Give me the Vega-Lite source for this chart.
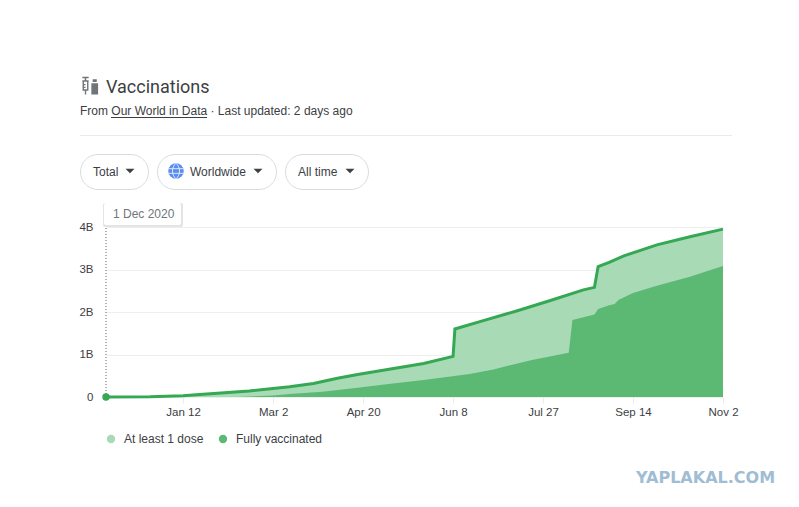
{
  "$schema": "https://vega.github.io/schema/vega-lite/v6.json",
  "width": 799,
  "height": 507,
  "autosize": "none",
  "padding": 0,
  "background": "white",
  "view": {"stroke": null},
  "datasets": {
    "vaccinations": [
      {"date": "2020-12-01", "series": "At least 1 dose", "doses": 0},
      {"date": "2020-12-25", "series": "At least 1 dose", "doses": 0.005},
      {"date": "2021-01-12", "series": "At least 1 dose", "doses": 0.03},
      {"date": "2021-01-21", "series": "At least 1 dose", "doses": 0.06},
      {"date": "2021-02-17", "series": "At least 1 dose", "doses": 0.14},
      {"date": "2021-03-11", "series": "At least 1 dose", "doses": 0.24},
      {"date": "2021-03-24", "series": "At least 1 dose", "doses": 0.32},
      {"date": "2021-04-06", "series": "At least 1 dose", "doses": 0.44},
      {"date": "2021-04-17", "series": "At least 1 dose", "doses": 0.53},
      {"date": "2021-05-05", "series": "At least 1 dose", "doses": 0.66},
      {"date": "2021-05-23", "series": "At least 1 dose", "doses": 0.79},
      {"date": "2021-06-08", "series": "At least 1 dose", "doses": 0.955},
      {"date": "2021-06-09", "series": "At least 1 dose", "doses": 1.6},
      {"date": "2021-06-24", "series": "At least 1 dose", "doses": 1.79},
      {"date": "2021-07-13", "series": "At least 1 dose", "doses": 2.03},
      {"date": "2021-07-31", "series": "At least 1 dose", "doses": 2.27},
      {"date": "2021-08-18", "series": "At least 1 dose", "doses": 2.52},
      {"date": "2021-08-24", "series": "At least 1 dose", "doses": 2.58},
      {"date": "2021-08-26", "series": "At least 1 dose", "doses": 3.07},
      {"date": "2021-09-01", "series": "At least 1 dose", "doses": 3.17},
      {"date": "2021-09-09", "series": "At least 1 dose", "doses": 3.32},
      {"date": "2021-09-27", "series": "At least 1 dose", "doses": 3.58},
      {"date": "2021-10-15", "series": "At least 1 dose", "doses": 3.77},
      {"date": "2021-11-02", "series": "At least 1 dose", "doses": 3.95},
      {"date": "2020-12-01", "series": "Fully vaccinated", "doses": 0},
      {"date": "2021-02-10", "series": "Fully vaccinated", "doses": 0},
      {"date": "2021-03-02", "series": "Fully vaccinated", "doses": 0.035},
      {"date": "2021-03-11", "series": "Fully vaccinated", "doses": 0.07},
      {"date": "2021-03-29", "series": "Fully vaccinated", "doses": 0.125},
      {"date": "2021-04-17", "series": "Fully vaccinated", "doses": 0.22},
      {"date": "2021-05-05", "series": "Fully vaccinated", "doses": 0.31},
      {"date": "2021-05-23", "series": "Fully vaccinated", "doses": 0.4},
      {"date": "2021-06-17", "series": "Fully vaccinated", "doses": 0.54},
      {"date": "2021-06-30", "series": "Fully vaccinated", "doses": 0.65},
      {"date": "2021-07-21", "series": "Fully vaccinated", "doses": 0.87},
      {"date": "2021-08-10", "series": "Fully vaccinated", "doses": 1.04},
      {"date": "2021-08-12", "series": "Fully vaccinated", "doses": 1.81},
      {"date": "2021-08-24", "series": "Fully vaccinated", "doses": 1.94},
      {"date": "2021-08-26", "series": "Fully vaccinated", "doses": 2.07},
      {"date": "2021-09-01", "series": "Fully vaccinated", "doses": 2.16},
      {"date": "2021-09-04", "series": "Fully vaccinated", "doses": 2.19},
      {"date": "2021-09-06", "series": "Fully vaccinated", "doses": 2.28},
      {"date": "2021-09-14", "series": "Fully vaccinated", "doses": 2.45},
      {"date": "2021-09-27", "series": "Fully vaccinated", "doses": 2.62},
      {"date": "2021-10-15", "series": "Fully vaccinated", "doses": 2.83},
      {"date": "2021-10-22", "series": "Fully vaccinated", "doses": 2.93},
      {"date": "2021-11-02", "series": "Fully vaccinated", "doses": 3.08}
    ],
    "selected": [{"date": "2020-12-01", "doses": 0}]
  },
  "layer": [
    {
      "data": {"name": "vaccinations"},
      "mark": {"type": "area", "opacity": 1},
      "encoding": {
        "x": {
          "field": "date",
          "type": "temporal",
          "scale": {
            "type": "utc",
            "domain": [{"year": 2020, "month": 12, "date": 1, "utc": true}, {"year": 2021, "month": 11, "date": 2, "utc": true}],
            "range": [106, 723]
          },
          "axis": {
            "title": null,
            "offset": -110,
            "grid": false,
            "domain": false,
            "labelExpr": "utcFormat(datum.value, '%b %-d')",
            "values": [
              {"year": 2021, "month": 1, "date": 12, "utc": true},
              {"year": 2021, "month": 3, "date": 2, "utc": true},
              {"year": 2021, "month": 4, "date": 20, "utc": true},
              {"year": 2021, "month": 6, "date": 8, "utc": true},
              {"year": 2021, "month": 7, "date": 27, "utc": true},
              {"year": 2021, "month": 9, "date": 14, "utc": true},
              {"year": 2021, "month": 11, "date": 2, "utc": true}
            ],
            "tickColor": "#ebebeb",
            "tickSize": 6,
            "labelFont": "Liberation Sans",
            "labelFontSize": 11.5,
            "labelColor": "#3c4043",
            "labelPadding": 3,
            "labelOverlap": false,
            "labelFlush": false
          }
        },
        "y": {
          "field": "doses",
          "type": "quantitative",
          "stack": null,
          "scale": {"domain": [0, 4], "range": [397, 227], "nice": false},
          "axis": {
            "title": null,
            "offset": -106,
            "domain": false,
            "ticks": false,
            "values": [0, 1, 2, 3, 4],
            "labelExpr": "datum.value == 0 ? '0' : datum.value + 'B'",
            "labelFont": "Liberation Sans",
            "labelFontSize": 11.5,
            "labelColor": "#3c4043",
            "labelPadding": 13,
            "grid": true,
            "gridColor": "#eeeeee"
          }
        },
        "color": {
          "field": "series",
          "type": "nominal",
          "scale": {"domain": ["At least 1 dose", "Fully vaccinated"], "range": ["#a8dab5", "#5bb974"]},
          "legend": {
            "title": null,
            "orient": "none",
            "legendX": 105,
            "legendY": 433,
            "direction": "horizontal",
            "symbolType": "circle",
            "symbolSize": 70,
            "symbolStrokeWidth": 0,
            "columnPadding": 13,
            "labelFont": "Liberation Sans",
            "labelFontSize": 12,
            "labelColor": "#3c4043",
            "labelOffset": 7
          }
        }
      }
    },
    {
      "data": {"name": "vaccinations"},
      "transform": [{"filter": "datum.series == 'At least 1 dose'"}],
      "mark": {"type": "line", "color": "#34a853", "strokeWidth": 3},
      "encoding": {
        "x": {"field": "date", "type": "temporal"},
        "y": {"field": "doses", "type": "quantitative"}
      }
    },
    {
      "data": {"name": "selected"},
      "mark": {"type": "rule", "color": "#5f6368", "strokeDash": [1, 2], "strokeWidth": 1},
      "encoding": {
        "x": {"field": "date", "type": "temporal"},
        "y": {"datum": 0},
        "y2": {"datum": 4}
      }
    },
    {
      "data": {"name": "selected"},
      "mark": {"type": "circle", "color": "#34a853", "opacity": 1, "size": 55},
      "encoding": {
        "x": {"field": "date", "type": "temporal"},
        "y": {"field": "doses", "type": "quantitative"}
      }
    },
    {
      "data": {"values": [{}]},
      "mark": {"type": "rect", "fill": "#e4e4e4", "cornerRadius": 2},
      "encoding": {"x": {"value": 103}, "x2": {"value": 183}, "y": {"value": 203}, "y2": {"value": 227}}
    },
    {
      "data": {"values": [{}]},
      "mark": {"type": "rect", "fill": "white", "cornerRadius": 2},
      "encoding": {"x": {"value": 104}, "x2": {"value": 181}, "y": {"value": 203}, "y2": {"value": 225}}
    },
    {
      "data": {"values": [{"label": "1 Dec 2020"}]},
      "mark": {"type": "text", "align": "left", "font": "Liberation Sans", "fontSize": 12, "color": "#70757a", "x": 113, "y": 218, "baseline": "alphabetic"},
      "encoding": {"text": {"field": "label"}}
    },
    {
      "data": {"values": [{"label": "Vaccinations"}]},
      "mark": {"type": "text", "align": "left", "font": "Roboto", "fontSize": 18, "color": "#3c4043", "x": 106, "y": 93, "baseline": "alphabetic"},
      "encoding": {"text": {"field": "label"}}
    },
    {
      "data": {"values": [{"label": "From Our World in Data · Last updated: 2 days ago"}]},
      "mark": {"type": "text", "align": "left", "font": "Liberation Sans", "fontSize": 12, "color": "#3c4043", "x": 80, "y": 115, "baseline": "alphabetic"},
      "encoding": {"text": {"field": "label"}}
    },
    {
      "data": {"values": [{}]},
      "mark": {"type": "rule", "color": "#3c4043", "strokeWidth": 1},
      "encoding": {"x": {"value": 111}, "x2": {"value": 207}, "y": {"value": 117.5}}
    },
    {
      "data": {"values": [{}]},
      "mark": {"type": "rule", "color": "#e8eaed", "strokeWidth": 1},
      "encoding": {"x": {"value": 80}, "x2": {"value": 732}, "y": {"value": 135.5}}
    },
    {
      "data": {"values": [{}]},
      "mark": {"type": "point", "filled": false, "stroke": "#70757a", "strokeWidth": 1.4, "opacity": 1, "size": 324, "shape": "M -0.85 -0.95 H -0.15 M -0.5 -0.95 V -0.55 M -0.85 -0.55 H -0.15 M -0.75 -0.55 V 0.45 H -0.25 V -0.55 M -0.5 0.45 V 0.95 M -0.75 -0.15 H -0.5 M -0.75 0.15 H -0.5"},
      "encoding": {"x": {"value": 90}, "y": {"value": 86}}
    },
    {
      "data": {"values": [{}]},
      "mark": {"type": "point", "filled": true, "fill": "#70757a", "strokeWidth": 0, "opacity": 1, "size": 324, "shape": "M 0.3 -0.75 H 0.75 V -0.45 H 0.3 Z M 0.15 -0.3 H 0.9 V 0.95 H 0.15 Z"},
      "encoding": {"x": {"value": 90}, "y": {"value": 86}}
    },
    {
      "data": {"values": [{}]},
      "mark": {"type": "rect", "fill": "white", "stroke": "#dadce0", "cornerRadius": 17.5},
      "encoding": {"x": {"value": 80.5}, "x2": {"value": 148.5}, "y": {"value": 154.5}, "y2": {"value": 189.5}}
    },
    {
      "data": {"values": [{}]},
      "mark": {"type": "rect", "fill": "white", "stroke": "#dadce0", "cornerRadius": 17.5},
      "encoding": {"x": {"value": 157.5}, "x2": {"value": 276.5}, "y": {"value": 154.5}, "y2": {"value": 189.5}}
    },
    {
      "data": {"values": [{}]},
      "mark": {"type": "rect", "fill": "white", "stroke": "#dadce0", "cornerRadius": 17.5},
      "encoding": {"x": {"value": 285.5}, "x2": {"value": 368.5}, "y": {"value": 154.5}, "y2": {"value": 189.5}}
    },
    {
      "data": {"values": [{"label": "Total"}]},
      "mark": {"type": "text", "align": "left", "font": "Liberation Sans", "fontSize": 12, "color": "#3c4043", "x": 93, "y": 176, "baseline": "alphabetic"},
      "encoding": {"text": {"field": "label"}}
    },
    {
      "data": {"values": [{"label": "Worldwide"}]},
      "mark": {"type": "text", "align": "left", "font": "Liberation Sans", "fontSize": 12, "color": "#3c4043", "x": 190, "y": 176, "baseline": "alphabetic"},
      "encoding": {"text": {"field": "label"}}
    },
    {
      "data": {"values": [{"label": "All time"}]},
      "mark": {"type": "text", "align": "left", "font": "Liberation Sans", "fontSize": 12, "color": "#3c4043", "x": 298, "y": 176, "baseline": "alphabetic"},
      "encoding": {"text": {"field": "label"}}
    },
    {
      "data": {"values": [{}]},
      "mark": {"type": "point", "filled": true, "fill": "#3c4043", "strokeWidth": 0, "opacity": 1, "size": 324, "shape": "M -0.5 -0.25 H 0.5 L 0 0.25 Z"},
      "encoding": {"x": {"value": 130}, "y": {"value": 171}}
    },
    {
      "data": {"values": [{}]},
      "mark": {"type": "point", "filled": true, "fill": "#3c4043", "strokeWidth": 0, "opacity": 1, "size": 324, "shape": "M -0.5 -0.25 H 0.5 L 0 0.25 Z"},
      "encoding": {"x": {"value": 258}, "y": {"value": 171}}
    },
    {
      "data": {"values": [{}]},
      "mark": {"type": "point", "filled": true, "fill": "#3c4043", "strokeWidth": 0, "opacity": 1, "size": 324, "shape": "M -0.5 -0.25 H 0.5 L 0 0.25 Z"},
      "encoding": {"x": {"value": 350}, "y": {"value": 171}}
    },
    {
      "data": {"values": [{}]},
      "mark": {"type": "circle", "color": "#5b8def", "opacity": 1, "size": 240},
      "encoding": {"x": {"value": 176}, "y": {"value": 171}}
    },
    {
      "data": {"values": [{}]},
      "mark": {"type": "point", "filled": false, "stroke": "#dbe7fb", "strokeWidth": 1, "opacity": 1, "size": 240, "shape": "M 0 -1 C -0.6 -0.5 -0.6 0.5 0 1 C 0.6 0.5 0.6 -0.5 0 -1 M -0.95 -0.3 H 0.95 M -0.95 0.3 H 0.95"},
      "encoding": {"x": {"value": 176}, "y": {"value": 171}}
    },
    {
      "data": {"values": [{"label": "YAPLAKAL.COM"}]},
      "mark": {"type": "text", "align": "left", "font": "DejaVu Sans", "fontWeight": "bold", "fontSize": 16, "color": "#a0bdd3", "x": 636, "y": 483, "baseline": "alphabetic"},
      "encoding": {"text": {"field": "label"}}
    }
  ]
}
